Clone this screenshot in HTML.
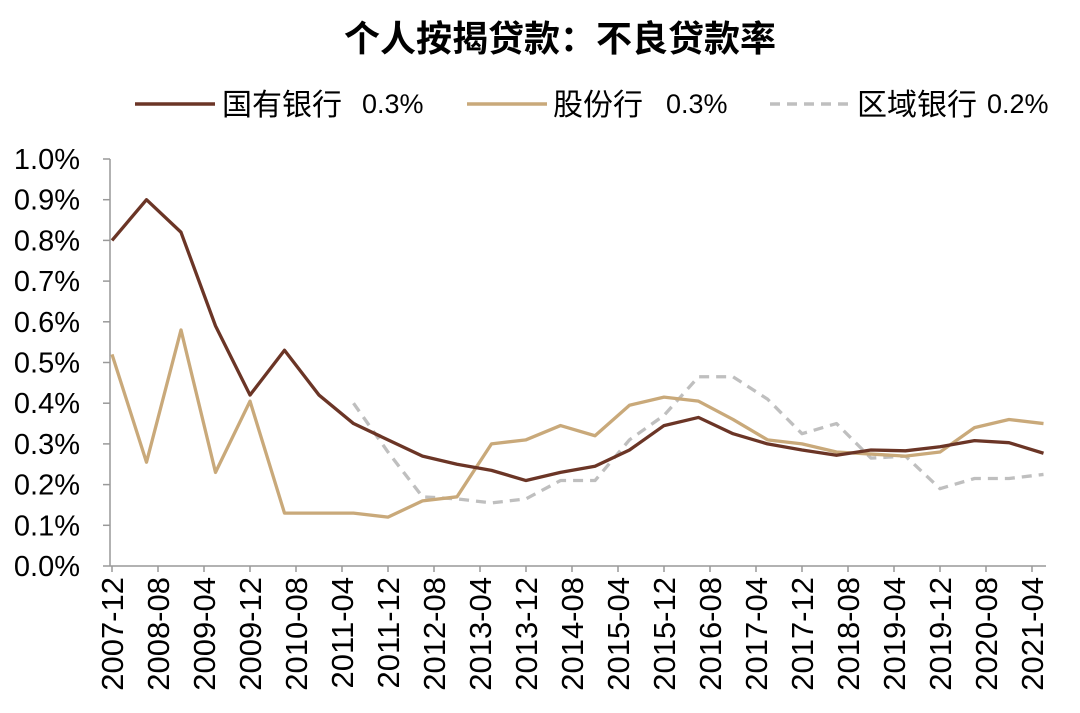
<!DOCTYPE html>
<html><head><meta charset="utf-8"><style>
body{margin:0;background:#fff;width:1080px;height:708px;overflow:hidden;font-family:"Liberation Sans","Noto Sans CJK SC",sans-serif}
</style></head><body>
<svg id="chart" width="1080" height="708" xmlns="http://www.w3.org/2000/svg" font-family="Liberation Sans, Noto Sans CJK SC, sans-serif">
<text x="560" y="51" text-anchor="middle" font-size="36" font-weight="bold" fill="#000">个人按揭贷款：不良贷款率</text>
<g>
<g><line x1="135" y1="104" x2="215" y2="104" stroke="#6B3526" stroke-width="3.5"/><text x="222" y="115" font-size="30" fill="#000">国有银行</text><text x="362" y="113" font-size="27" fill="#000">0.3%</text></g>
<g><line x1="467" y1="104" x2="547" y2="104" stroke="#C9A97A" stroke-width="3.5"/><text x="553" y="115" font-size="30" fill="#000">股份行</text><text x="666" y="113" font-size="27" fill="#000">0.3%</text></g>
<g><line x1="770" y1="104" x2="850" y2="104" stroke="#BFBFBF" stroke-width="3.5" stroke-dasharray="10,7"/><text x="857" y="115" font-size="30" fill="#000">区域银行</text><text x="987" y="113" font-size="27" fill="#000">0.2%</text></g>
</g>
<g id="axes"></g>
<g id="series"></g>
</svg>
<script>
const xLabels=["2007-12","2008-08","2009-04","2009-12","2010-08","2011-04","2011-12","2012-08","2013-04","2013-12","2014-08","2015-04","2015-12","2016-08","2017-04","2017-12","2018-08","2019-04","2019-12","2020-08","2021-04"];
const yTicks=[0,0.1,0.2,0.3,0.4,0.5,0.6,0.7,0.8,0.9,1.0];
const stateBanks=[0.80,0.90,0.82,0.59,0.42,0.53,0.42,0.35,0.31,0.27,0.25,0.235,0.21,0.23,0.245,0.285,0.345,0.365,0.325,0.30,0.285,0.272,0.285,0.283,0.293,0.308,0.303,0.277];
const jointStock=[0.52,0.255,0.58,0.23,0.405,0.13,0.13,0.13,0.12,0.16,0.17,0.30,0.31,0.345,0.32,0.395,0.415,0.405,0.36,0.31,0.30,0.28,0.275,0.27,0.28,0.34,0.36,0.35];
const regional=[null,null,null,null,null,null,null,0.40,0.28,0.17,0.165,0.155,0.165,0.21,0.21,0.31,0.37,0.465,0.465,0.41,0.325,0.35,0.265,0.27,0.19,0.215,0.215,0.225];
const NS='http://www.w3.org/2000/svg';
const x0=112, pxMonth=5.75, y0=566, pxPct=407;
const xPoint=i=>x0+i*6*pxMonth;
const xLabel=i=>x0+i*8*pxMonth;
const yv=v=>y0-v*pxPct;
function mk(t,a,p){const e=document.createElementNS(NS,t);for(const k in a)e.setAttribute(k,a[k]);p.appendChild(e);return e;}
const ax=document.getElementById('axes');
const yAxis=mk('line',{x1:110,y1:yv(1),x2:110,y2:y0,stroke:'#999','stroke-width':1.5},ax);


const xAxis=mk('line',{x1:110,y1:y0,x2:1046,y2:y0,stroke:'#999','stroke-width':1.5},ax);


yTicks.forEach(v=>{
  mk('line',{x1:103,y1:yv(v),x2:110,y2:yv(v),stroke:'#999','stroke-width':1.5},ax);
  const t=mk('text',{x:80,y:yv(v)+10,'text-anchor':'end','font-size':29,fill:'#000'},ax);
  t.textContent=v.toFixed(1)+'%';
  
  
});
xLabels.forEach((l,i)=>{
  const x=xLabel(i);
  mk('line',{x1:x,y1:y0,x2:x,y2:y0+6,stroke:'#999','stroke-width':1.5},ax);
  const t=mk('text',{x:0,y:0,transform:`translate(${x+11},577) rotate(-90)`,'text-anchor':'end','font-size':31,fill:'#000'},ax);
  t.textContent=l;
  
  
});
const sg=document.getElementById('series');
function line(vals,color,dash,name){
  let d='';vals.forEach((v,i)=>{if(v==null)return;d+=(d?'L':'M')+xPoint(i)+','+yv(v);});
  const p=mk('path',{d:d,fill:'none',stroke:color,'stroke-width':3.3,'stroke-linejoin':'round'},sg);
  if(dash)p.setAttribute('stroke-dasharray',dash);
  
  
}
line(regional,'#BFBFBF','10,7','series-regional-banks');
line(jointStock,'#C9A97A',null,'series-joint-stock-banks');
line(stateBanks,'#6B3526',null,'series-state-banks');
</script>
</body></html>
